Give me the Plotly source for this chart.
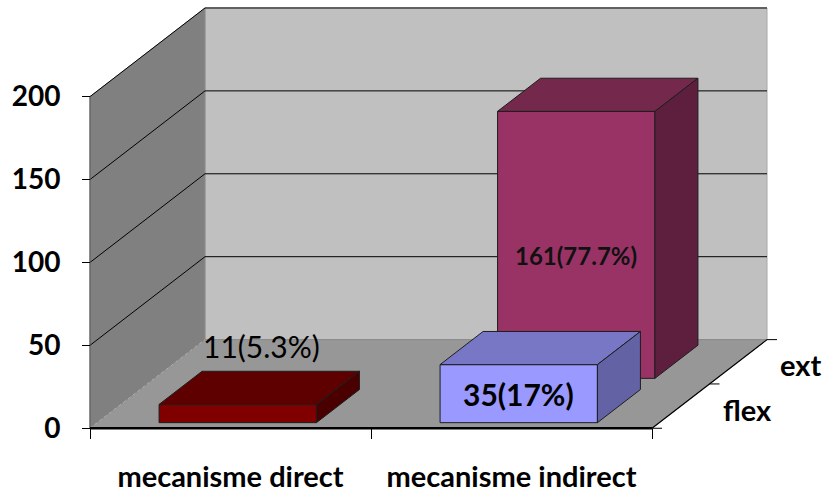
import plotly.graph_objects as go

# ---- data -------------------------------------------------------------
categories = ["mecanisme direct", "mecanisme indirect"]
series_names = ["flex", "ext"]
flex_values = [11, 35]
ext_values = [None, 161]
flex_labels = ["11(5.3%)", "35(17%)"]
ext_labels = [None, "161(77.7%)"]
y_ticks = [0, 50, 100, 150, 200]

# ---- look -------------------------------------------------------------
# (front, top, side) shades for each point
flex_colors = [("#800000", "#5e0000", "#4a0000"), ("#9999ff", "#7777c6", "#6262a4")]
ext_colors = [None, ("#993366", "#74284c", "#5e1e3e")]
WALL_BACK = "#c0c0c0"
WALL_SIDE = "#808080"
FLOOR = "#979797"
FONT = "Lato, Open Sans, DejaVu Sans, sans-serif"

W, H = 828, 493
ORIGIN_PX = (90, 430)        # front-left floor corner on the page
PX_PER_CAT = 281             # horizontal pixels per category band
PX_PER_UNIT = 1.665          # vertical pixels per value unit
DEPTH_PX = (115, 89)         # oblique offset of the full depth
Y_TOP = 200

DX = DEPTH_PX[0] / PX_PER_CAT
DV = DEPTH_PX[1] / PX_PER_UNIT
x_range = [-ORIGIN_PX[0] / PX_PER_CAT, (W - ORIGIN_PX[0]) / PX_PER_CAT]
y_range = [-(H - ORIGIN_PX[1]) / PX_PER_UNIT, ORIGIN_PX[1] / PX_PER_UNIT]
n_cat = len(categories)


def P(x, v, d):
    """Oblique projection of (category position, value, depth 0..1)."""
    return x + d * DX, v + d * DV


fig = go.Figure()


def poly(pts, fill=None, line="#1e1e1e", width=1, dash="solid", closed=True):
    xs = [p[0] for p in pts]
    ys = [p[1] for p in pts]
    if closed:
        xs.append(xs[0])
        ys.append(ys[0])
    fig.add_trace(go.Scatter(
        x=xs, y=ys, mode="lines",
        fill="toself" if fill else None, fillcolor=fill,
        line=dict(color=line, width=width, dash=dash),
        hoverinfo="skip", showlegend=False,
    ))


# walls and floor
poly([P(0, 0, 1), P(n_cat, 0, 1), P(n_cat, Y_TOP, 1), P(0, Y_TOP, 1)], WALL_BACK, line="#a8a8a8")
poly([P(0, 0, 0), P(0, 0, 1), P(0, Y_TOP, 1), P(0, Y_TOP, 0)], WALL_SIDE, line="#8c8c8c")
poly([P(0, 0, 0), P(n_cat, 0, 0), P(n_cat, 0, 1), P(0, 0, 1)], FLOOR, line="#8a8a8a")
poly([P(0, 0, 0), P(0, 0, 1)], line="#b0b0b0", dash="dot", closed=False)

# gridlines across the side and back walls
for v in y_ticks[1:]:
    poly([P(0, v, 0), P(0, v, 1), P(n_cat, v, 1)], line="#000000", width=1, closed=False)

# front edge of the side wall
poly([P(0, 0, 0), P(0, Y_TOP, 0)], line="#555555", width=1, closed=False)

BAR_W = 0.56
BAR_D = 0.374


def bar(ci, si, value, colors):
    x0 = ci + 0.5 - BAR_W / 2
    x1 = ci + 0.5 + BAR_W / 2
    dc = (si + 0.5) / len(series_names)
    d0, d1 = dc - BAR_D / 2, dc + BAR_D / 2
    front, top, side = colors
    poly([P(x0, 0, d0), P(x1, 0, d0), P(x1, value, d0), P(x0, value, d0)], front)
    poly([P(x0, value, d0), P(x1, value, d0), P(x1, value, d1), P(x0, value, d1)], top)
    poly([P(x1, 0, d0), P(x1, 0, d1), P(x1, value, d1), P(x1, value, d0)], side)
    return x0, x1, d0, d1


# back row first, then the front row
for ci, (v, c) in enumerate(zip(ext_values, ext_colors)):
    if v:
        bar(ci, 1, v, c)
for ci, (v, c) in enumerate(zip(flex_values, flex_colors)):
    if v:
        bar(ci, 0, v, c)

# floor front edge (category axis line) and depth axis line
poly([P(0, 0, 0), P(n_cat, 0, 0)], line="#000000", width=2.5, closed=False)
poly([P(n_cat, 0, 0), P(n_cat, 0, 1)], line="#000000", width=1.2, closed=False)

# depth axis ticks
tick_dx = 10 / PX_PER_CAT
for d in [0, 0.5, 1]:
    bx, by = P(n_cat, 0, d)
    poly([(bx, by), (bx + tick_dx, by)], line="#000000", width=1, closed=False)

annotations = []
# depth axis labels
for si, name in enumerate(series_names):
    ax, ay = P(n_cat, 0, (si + 0.5) / len(series_names))
    annotations.append(dict(
        x=ax, y=ay, text=name, showarrow=False, xanchor="left", yanchor="middle",
        xshift=40, yshift=-3,
        font=dict(family=FONT, size=29, color="#000000", weight="bold"),
    ))

# value labels
d_front = 0.5 / len(series_names) - BAR_D / 2
ax, ay = P(0.5, flex_values[0], 0.5 / len(series_names))
annotations.append(dict(
    x=ax, y=ay, text=flex_labels[0], showarrow=False, xanchor="center", yanchor="middle",
    yshift=42, xshift=2, font=dict(family=FONT, size=30, color="#000000"),
))
ax, ay = P(1.5, flex_values[1] / 2, d_front)
annotations.append(dict(
    x=ax, y=ay, text=flex_labels[1], showarrow=False, xanchor="center", yanchor="middle",
    font=dict(family=FONT, size=30, color="#000000", weight="bold"),
))
ax, ay = P(1.5, ext_values[1] / 2, 0.5 + d_front)
annotations.append(dict(
    x=ax, y=ay, text=ext_labels[1], showarrow=False, xanchor="center", yanchor="middle",
    yshift=-11, font=dict(family=FONT, size=24, color="#111111", weight="bold"),
))

fig.update_layout(
    width=W, height=H,
    margin=dict(l=0, r=0, t=0, b=0),
    paper_bgcolor="white", plot_bgcolor="white",
    annotations=annotations,
    xaxis=dict(
        range=x_range, showgrid=False, zeroline=False, showline=False,
        tickmode="array", tickvals=[i + 0.5 for i in range(n_cat)], ticktext=categories,
        ticks="", ticklabelstandoff=29,
        minor=dict(tickmode="array", tickvals=list(range(n_cat + 1)), ticks="outside",
                   ticklen=10, tickwidth=1, tickcolor="#000000", showgrid=False),
        anchor="free", position=(H - ORIGIN_PX[1]) / H,
        tickfont=dict(family=FONT, size=29, color="#000000", weight="bold"),
        fixedrange=True,
    ),
    yaxis=dict(
        range=y_range, showgrid=False, zeroline=False, showline=False,
        tickmode="array", tickvals=y_ticks,
        ticks="outside", ticklen=8, tickwidth=1, tickcolor="#000000",
        ticklabelstandoff=16,
        anchor="free", position=ORIGIN_PX[0] / W,
        tickfont=dict(family=FONT, size=28, color="#000000", weight="bold"),
        fixedrange=True,
    ),
)

fig.write_html("out.html")
